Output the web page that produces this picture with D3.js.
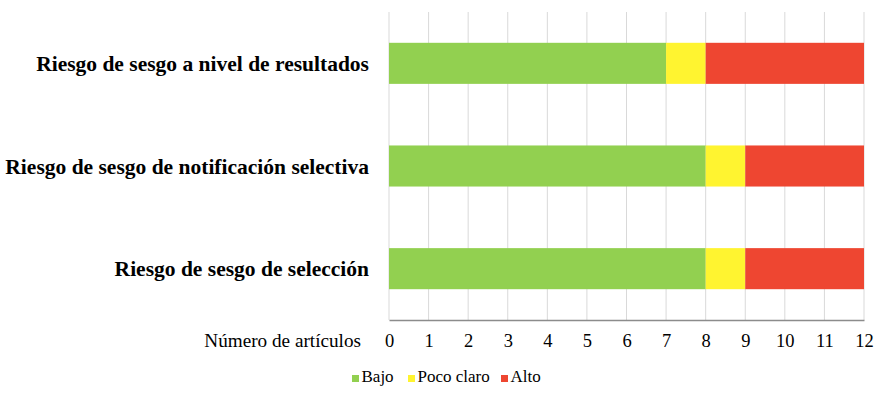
<!DOCTYPE html>
<html>
<head>
<meta charset="utf-8">
<script src="https://cdn.jsdelivr.net/npm/d3@7"></script>
<style>
  body { margin: 0; background: #fff; }
  text { font-family: "Liberation Serif", "Times New Roman", serif; }
</style>
</head>
<body>
<div id="chart"></div>
<script>
const categories = ["Riesgo de sesgo a nivel de resultados", "Riesgo de sesgo de notificación selectiva", "Riesgo de sesgo de selección"];
const seriesNames = ["Bajo", "Poco claro", "Alto"];
const bajo = [7, 8, 8];
const pocoClaro = [1, 1, 1];
const alto = [4, 3, 3];
const colors = ["#92D050", "#FFF430", "#EE4631"];
const xTicks = [0, 1, 2, 3, 4, 5, 6, 7, 8, 9, 10, 11, 12];
const xTitle = "Número de artículos";

const width = 886, height = 397;
const margin = { top: 12, right: 22, bottom: 77, left: 389 };

const rows = categories.map((c, i) => ({ cat: c, "Bajo": bajo[i], "Poco claro": pocoClaro[i], "Alto": alto[i] }));
const stacked = d3.stack().keys(seriesNames)(rows);

let xScale = d3.scaleLinear()
  .domain([0, 12])
  .range([margin.left, width - margin.right]);
let yScale = d3.scaleBand()
  .domain(categories)
  .range([margin.top, height - margin.bottom])
  .paddingInner(0.6)
  .paddingOuter(0.3);

let svg = d3.select("#chart").append("svg")
  .attr("width", width)
  .attr("height", height);

// vertical grid
svg.selectAll(".grid").data(xTicks).enter()
  .append("line")
  .attr("x1", d => xScale(d)).attr("x2", d => xScale(d))
  .attr("y1", margin.top).attr("y2", height - margin.bottom)
  .attr("stroke", "#d9d9d9")
  .attr("stroke-width", 1);

// bars
svg.selectAll(".series").data(stacked).enter()
  .append("g")
  .attr("fill", (d, i) => colors[i])
  .selectAll("rect")
  .data(d => d).enter()
  .append("rect")
  .attr("x", d => xScale(d[0]))
  .attr("width", d => xScale(d[1]) - xScale(d[0]))
  .attr("y", d => yScale(d.data.cat))
  .attr("height", yScale.bandwidth());

// x axis
let xAxis = svg.append("g")
  .attr("transform", "translate(0," + (height - margin.bottom) + ")")
  .call(d3.axisBottom(xScale).tickValues(xTicks).tickSize(0).tickPadding(14).tickFormat(d3.format("d")));
xAxis.select(".domain").attr("stroke", "#8c8c8c").attr("stroke-width", 1.3);
xAxis.selectAll("text")
  .style("font-size", "18.5px")
  .style("font-family", "Liberation Serif")
  .attr("fill", "#000");

svg.append("text")
  .attr("x", 361)
  .attr("y", 347)
  .attr("text-anchor", "end")
  .style("font-size", "19.2px")
  .text(xTitle);

// category labels
svg.selectAll(".cat").data(categories).enter()
  .append("text")
  .attr("x", 369)
  .attr("y", d => yScale(d) + yScale.bandwidth() / 2)
  .attr("dy", "0.35em")
  .attr("text-anchor", "end")
  .style("font-size", "21.5px")
  .style("font-weight", "bold")
  .text(d => d);

// legend
const legendX = [352, 408, 501];
let legend = svg.selectAll(".legend").data(seriesNames).enter()
  .append("g")
  .attr("transform", (d, i) => "translate(" + legendX[i] + "," + 382 + ")");
legend.append("rect")
  .attr("x", 0).attr("y", -7)
  .attr("width", 7).attr("height", 7)
  .attr("fill", (d, i) => colors[i]);
legend.append("text")
  .attr("x", 9.5)
  .style("font-size", "17px")
  .text(d => d);
</script>
</body>
</html>
